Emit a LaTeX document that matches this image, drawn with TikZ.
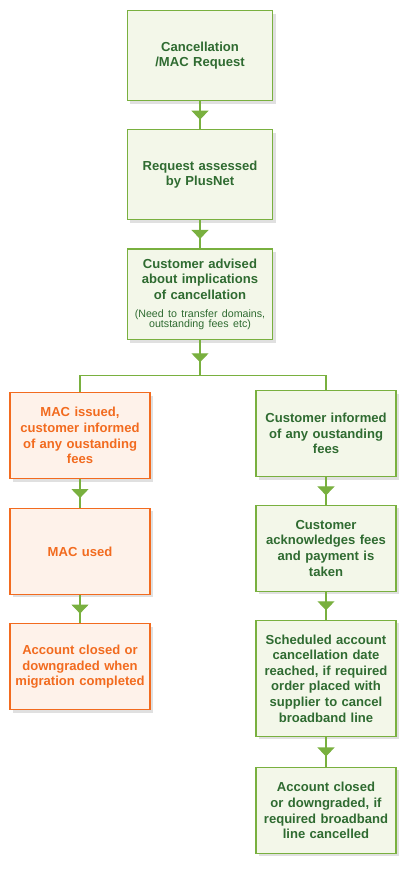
\documentclass[tikz,border=0pt]{standalone}
\usepackage{fontspec}
\setmainfont{Liberation Sans}
\usetikzlibrary{positioning,arrows.meta,decorations.markings,shadows}

\definecolor{boxgreen}{HTML}{79B03F}
\definecolor{fillgreen}{HTML}{F3F7E9}
\definecolor{textgreen}{HTML}{2F6B31}
\definecolor{boxorange}{HTML}{F26B1F}
\definecolor{fillorange}{HTML}{FEF2EA}

\tikzset{
    box/.style={line width=0.9pt, inner xsep=0pt, inner ysep=2pt, align=center,
        font=\bfseries\fontsize{9.8}{11.7}\selectfont,
        drop shadow={shadow xshift=2.2pt, shadow yshift=-2.2pt, fill=black!40, opacity=0.3}},
    greenbox/.style={box, draw=boxgreen, fill=fillgreen, text=textgreen},
    orangebox/.style={box, draw=boxorange, fill=fillorange, text=boxorange},
    link/.style={draw=boxgreen, line width=0.8pt},
    flow/.style={link, postaction={decorate},
        decoration={markings, mark=at position 0.5 with
            {\arrow[xshift=3.4pt, boxgreen]{Triangle[width=12.75pt, length=6.75pt]}}}},
}

\begin{document}
\begin{tikzpicture}
    \useasboundingbox (0,0) rectangle (306pt,-657.75pt);
    % centre column
    \node [greenbox, anchor=north, text width=109pt, minimum height=67.5pt] (b1) at (150pt,-7.5pt)
        {Cancellation\\/MAC Request};
    \node [greenbox, text width=109pt, minimum height=67.5pt, below=21pt of b1] (b2)
        {Request assessed\\by PlusNet};
    \node [greenbox, text width=109pt, minimum height=68pt, below=21pt of b2] (b3)
        {Customer advised\\about implications\\of cancellation\par\vspace{6pt}%
        {\mdseries\fontsize{8}{7.5}\selectfont (Need to transfer domains,\\outstanding fees etc)\par}};
    \coordinate [below=26.25pt of b3] (split);
    % left column (MAC)
    \node [orangebox, anchor=north, text width=105pt, minimum height=64.5pt] (l1) at (60pt,-294pt)
        {MAC issued,\\customer informed\\of any oustanding\\fees};
    \node [orangebox, text width=105pt, minimum height=64.5pt, below=21.5pt of l1] (l2)
        {MAC used};
    \node [orangebox, text width=105pt, minimum height=64.5pt, below=21pt of l2] (l3)
        {Account closed or\\downgraded when\\migration completed};
    % right column (cancellation)
    \node [greenbox, anchor=north, text width=105pt, minimum height=64.5pt] (r1) at (244.5pt,-292.5pt)
        {Customer informed\\of any oustanding\\fees};
    \node [greenbox, text width=105pt, minimum height=64.5pt, below=20.5pt of r1] (r2)
        {Customer\\acknowledges fees\\and payment is\\taken};
    \node [greenbox, text width=105pt, minimum height=87pt, below=21pt of r2] (r3)
        {Scheduled account\\cancellation date\\reached, if required\\order placed with\\supplier to cancel\\broadband line};
    \node [greenbox, text width=105pt, minimum height=64.5pt, below=22.5pt of r3] (r4)
        {Account closed\\or downgraded, if\\required broadband\\line cancelled};
    % connectors
    \draw [flow] (b1) -- (b2);
    \draw [flow] (b2) -- (b3);
    \draw [flow] (b3) -- (split);
    \draw [link] (l1) |- (split) -| (r1);
    \draw [flow] (l1) -- (l2);
    \draw [flow] (l2) -- (l3);
    \draw [flow] (r1) -- (r2);
    \draw [flow] (r2) -- (r3);
    \draw [flow] (r3) -- (r4);
\end{tikzpicture}
\end{document}
